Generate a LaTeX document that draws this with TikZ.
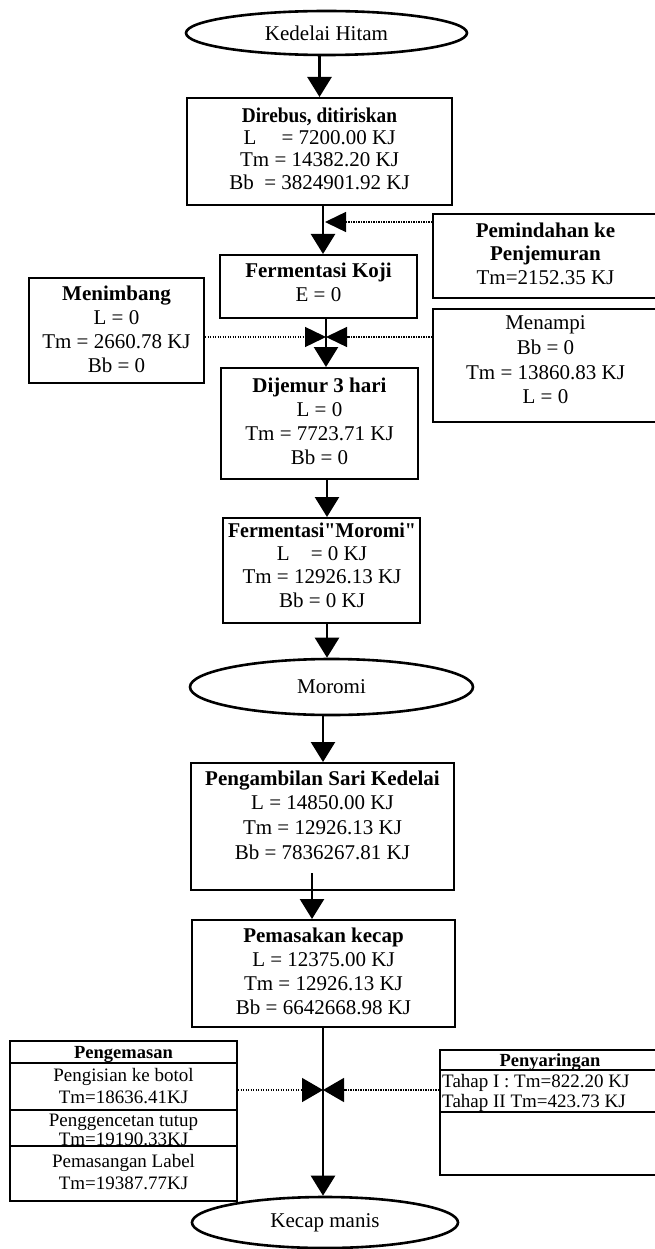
\documentclass[tikz,border=0pt]{standalone}
\usepackage{fontspec}
\usepackage{graphicx}
\setmainfont{Liberation Serif}
\usetikzlibrary{arrows.meta,shapes.geometric}
\newcommand\bxfont[1]{\fontsize{21}{#1}\selectfont}
\newcommand\sq{{\addfontfeature{Ligatures=TeXOff}"}}
\begin{document}
\begin{tikzpicture}[x=1pt,y=-1pt,
  box/.style={draw, line width=2pt, rectangle, inner sep=0pt},
  oval/.style={draw, line width=2.6pt, ellipse, inner sep=0pt, font=\fontsize{21}{24}\selectfont},
  txt/.style={inner sep=0pt, align=center},
  arr/.style={line width=2.5pt, -{Triangle[length=20pt,width=24pt]}},
  dotarr/.style={line width=1.4pt, dash pattern=on 1.2pt off 1.3pt, -{Triangle[length=21pt,width=20pt]}},
  dotarrb/.style={line width=1.4pt, dash pattern=on 1.2pt off 1.3pt, -{Triangle[length=21pt,width=24pt]}},
  sepline/.style={line width=1.6pt},
  tbl/.style={inner sep=0pt, anchor=base, font=\fontsize{19}{20}\selectfont},
  tblh/.style={inner sep=0pt, anchor=base, font=\fontsize{18.5}{20}\selectfont\bfseries},
]
\fill[white] (0,0) rectangle (654,1249);
\useasboundingbox (0,0) rectangle (654,1249);

% main column
\node[oval, minimum width=281pt, minimum height=44pt] (kedelai) at (326.5,33) {Kedelai Hitam};

\node[box, minimum width=265pt, minimum height=107pt] (direbus) at (319.5,151.5) {};
\node[txt, font=\bxfont{22.3}] (direbusT) at (319.5,148.5)
  {\textbf{\scalebox{0.92}[1]{Direbus, ditiriskan}}\\ L\hspace{1.2em}= 7200.00 KJ\\ Tm = 14382.20 KJ\\ Bb~ = 3824901.92 KJ};

\node[box, minimum width=197pt, minimum height=63pt] (koji) at (318.5,286.5) {};
\node[txt, font=\bxfont{24.5}] (kojiT) at (318.5,282.5) {\textbf{Fermentasi Koji}\\ E = 0};

\node[box, minimum width=197pt, minimum height=111pt] (dijemur) at (319.5,423.5) {};
\node[txt, font=\bxfont{24}] (dijemurT) at (319.5,421)
  {\textbf{Dijemur 3 hari}\\ L = 0\\ Tm = 7723.71 KJ\\ Bb = 0};

\node[box, minimum width=197pt, minimum height=105pt] (moromibox) at (321.5,570.5) {};
\node[txt, font=\bxfont{23.3}] (moromiboxT) at (322,565)
  {\textbf{\scalebox{0.95}[1]{Fermentasi\sq Moromi\sq}}\\ L\hspace{1em}= 0 KJ\\ Tm = 12926.13 KJ\\ Bb = 0 KJ};

\node[oval, minimum width=283pt, minimum height=56pt] (moromi) at (331.5,687) {Moromi};

\node[box, minimum width=263pt, minimum height=127pt] (pengambilan) at (322.5,826.5) {};
\node[txt, font=\bxfont{24.7}] (pengambilanT) at (322.5,815)
  {\textbf{Pengambilan Sari Kedelai}\\ L = 14850.00 KJ\\ Tm = 12926.13 KJ\\ Bb = 7836267.81 KJ};

\node[box, minimum width=263pt, minimum height=107pt] (pemasakan) at (323.5,973.5) {};
\node[txt, font=\bxfont{24}] (pemasakanT) at (323.5,971)
  {\textbf{Pemasakan kecap}\\ L = 12375.00 KJ\\ Tm = 12926.13 KJ\\ Bb = 6642668.98 KJ};

\node[oval, minimum width=266pt, minimum height=51pt] (kecap) at (325,1222.5) {Kecap manis};

% side boxes
\node[box, minimum width=225pt, minimum height=84pt] (pemindahan) at (545.5,256) {};
\node[txt, font=\bxfont{23.5}] (pemindahanT) at (545.5,253.5)
  {\textbf{Pemindahan ke}\\ \textbf{Penjemuran}\\ Tm=2152.35 KJ};

\node[box, minimum width=175pt, minimum height=105pt] (menimbang) at (116.5,330.5) {};
\node[txt, font=\bxfont{24}] (menimbangT) at (116.5,329)
  {\textbf{Menimbang}\\ L = 0\\ Tm = 2660.78 KJ\\ Bb = 0};

\node[box, minimum width=225pt, minimum height=113pt] (menampi) at (545.5,365.5) {};
\node[txt, font=\bxfont{24.7}] (menampiT) at (545.5,360)
  {Menampi\\ Bb = 0\\ Tm = 13860.83 KJ\\ L = 0};

% tables
\node[box, minimum width=227pt, minimum height=160pt] (pengemasan) at (123.5,1121) {};
\draw[sepline] (10,1063) -- (237,1063);
\draw[sepline] (10,1110) -- (237,1110);
\draw[sepline] (10,1146) -- (237,1146);
\node[tblh] (pg0) at (123.5,1058.5) {Pengemasan};
\node[tbl] (pg1) at (123.5,1081.5) {Pengisian ke botol};
\node[tbl] (pg2) at (123.5,1103.5) {Tm=18636.41KJ};
\node[tbl] (pg3) at (123.5,1126.5) {Penggencetan tutup};
\node[tbl] (pg4) at (123.5,1145) {Tm=19190.33KJ};
\node[tbl] (pg5) at (123.5,1167.5) {Pemasangan Label};
\node[tbl] (pg6) at (123.5,1189.5) {Tm=19387.77KJ};

\node[box, minimum width=220pt, minimum height=125pt] (penyaringan) at (550,1112.5) {};
\draw[sepline] (440,1070) -- (660,1070);
\draw[sepline] (440,1112) -- (660,1112);
\node[tblh] (py0) at (550,1066) {Penyaringan};
\node[tbl, anchor=base west] (py1) at (442,1087.5) {Tahap I : Tm=822.20 KJ};
\node[tbl, anchor=base west] (py2) at (442,1107.5) {Tahap II Tm=423.73 KJ};

% main arrows
\draw[arr] (direbus.north |- kedelai.south) -- (direbus.north);
\draw[arr] ([xshift=3.5pt]direbus.south) -- ([xshift=4.5pt]koji.north);
\draw[arr] ([xshift=7.5pt]koji.south) -- ([xshift=6.5pt]dijemur.north);
\draw[arr] ([xshift=7.5pt]dijemur.south) -- ([xshift=5.5pt]moromibox.north);
\draw[arr] ([xshift=5.5pt]moromibox.south) -- ([xshift=-4.5pt]moromi.north);
\draw[arr] ([xshift=-8.5pt]moromi.south) -- ([xshift=0.5pt]pengambilan.north);
\draw[arr] ([xshift=-10.5pt,yshift=18pt]pengambilan.south) -- ([xshift=-11.5pt]pemasakan.north);
\draw[arr] ([xshift=-0.5pt]pemasakan.south) -- ([xshift=-2pt]kecap.north);

% dotted side arrows
\coordinate (pj) at (325,222);
\draw[dotarr] (pemindahan.west |- pj) -- (pj);
\coordinate (bt1) at (326,337);
\draw[dotarr] (menimbang.east |- bt1) -- (bt1);
\draw[dotarr] (menampi.west |- bt1) -- (bt1);
\coordinate (bt2) at (323,1090);
\draw[dotarrb] (pengemasan.east |- bt2) -- (bt2);
\draw[dotarrb] (penyaringan.west |- bt2) -- (bt2);
\end{tikzpicture}
\end{document}
